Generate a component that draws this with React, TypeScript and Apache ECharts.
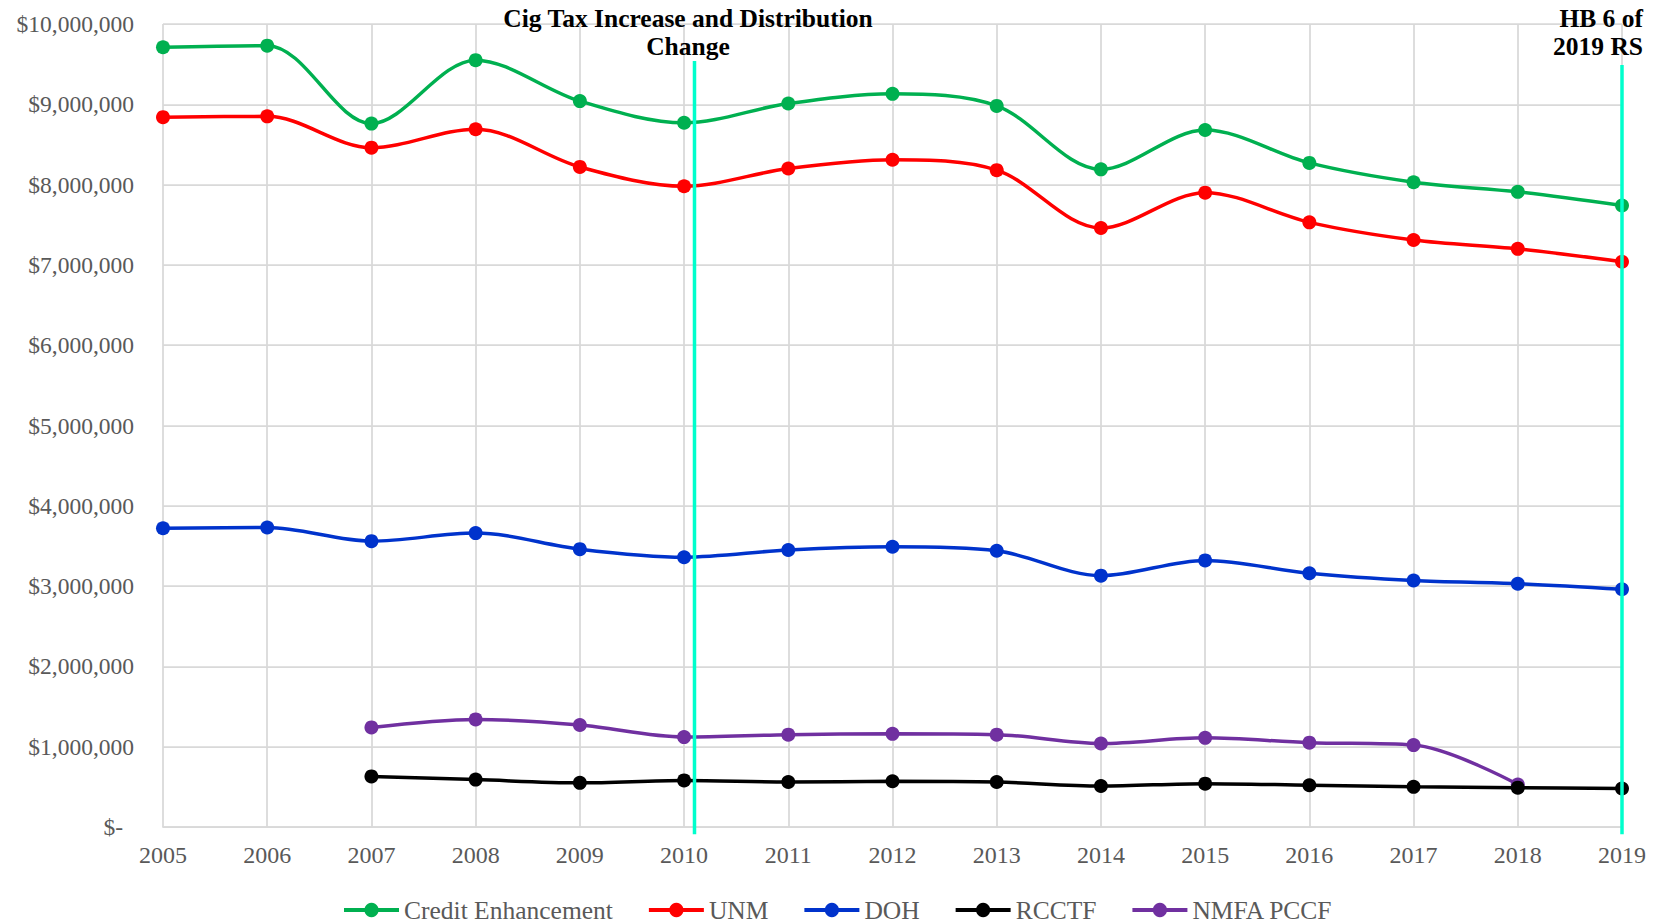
import React, { useEffect, useRef } from "react";
import * as echarts from "echarts";

const years = [2005, 2006, 2007, 2008, 2009, 2010, 2011, 2012, 2013, 2014, 2015, 2016, 2017, 2018, 2019];

const creditEnhancement = [9710000, 9730000, 8760000, 9550000, 9040000, 8770000, 9010000, 9130000, 8980000, 8190000, 8680000, 8270000, 8030000, 7910000, 7740000];
const unm = [8840000, 8850000, 8460000, 8690000, 8220000, 7980000, 8200000, 8310000, 8180000, 7460000, 7900000, 7530000, 7310000, 7200000, 7040000];
const doh = [3720000, 3730000, 3560000, 3660000, 3460000, 3360000, 3450000, 3490000, 3440000, 3130000, 3320000, 3160000, 3070000, 3030000, 2960000];
const rcctf = [null, null, 630000, 590000, 550000, 580000, 560000, 570000, 560000, 510000, 540000, 520000, 500000, 490000, 480000];
const nmfaPccf = [null, null, 1240000, 1340000, 1270000, 1120000, 1150000, 1160000, 1150000, 1040000, 1110000, 1050000, 1020000, 530000, null];

const seriesNames = ["Credit Enhancement", "UNM", "DOH", "RCCTF", "NMFA PCCF"];
const seriesColors = ["#00B050", "#FF0000", "#0033CC", "#000000", "#7030A0"];
const seriesValues = [creditEnhancement, unm, doh, rcctf, nmfaPccf];

const yTicks = { min: 0, max: 10000000, interval: 1000000 };

const annotationLines = [
  { x: 2010.1, top: 9540000, bottom: -90000 },
  { x: 2019, top: 9490000, bottom: -90000 },
];

const annotationTexts = [
  { text: "Cig Tax Increase and Distribution\nChange", x: 688, align: "center" },
  { text: "HB 6 of\n2019 RS", x: 1643, align: "right" },
];

const FONT = '"Liberation Serif", "Times New Roman", serif';

export default function App() {
  const ref = useRef<HTMLDivElement>(null);

  useEffect(() => {
    if (!ref.current) return;
    const chart = echarts.init(ref.current, undefined, { renderer: "svg" });

    const series: any[] = seriesNames.map((name, i) => {
      const data = years
        .map((y, j) => [y, seriesValues[i][j]])
        .filter((d) => d[1] !== null && d[1] !== undefined);
      return {
        name,
        type: "line",
        data,
        smooth: 0.33,
        symbol: "circle",
        symbolSize: 14,
        showSymbol: true,
        lineStyle: { color: seriesColors[i], width: 3.5 },
        itemStyle: { color: seriesColors[i] },
        emphasis: { disabled: true },
        z: 10 - i,
      };
    });

    chart.setOption({
      animation: false,
      backgroundColor: "#ffffff",
      grid: { left: 163, right: 41, top: 24, bottom: 97, containLabel: false },
      xAxis: {
        type: "value",
        min: 2005,
        max: 2019,
        interval: 1,
        axisLine: { show: true, lineStyle: { color: "#D9D9D9", width: 1.75 } },
        axisTick: { show: false },
        splitLine: { show: true, lineStyle: { color: "#D9D9D9", width: 1.75 } },
        axisLabel: {
          margin: 16,
          color: "#595959",
          fontFamily: FONT,
          fontSize: 24,
          formatter: (v: number) => String(v),
        },
      },
      yAxis: {
        type: "value",
        min: yTicks.min,
        max: yTicks.max,
        interval: yTicks.interval,
        axisLine: { show: false },
        axisTick: { show: false },
        splitLine: { show: true, lineStyle: { color: "#D9D9D9", width: 1.75 } },
        axisLabel: {
          margin: 29,
          color: "#595959",
          fontFamily: FONT,
          fontSize: 23.5,
          formatter: (v: number) =>
            v === 0 ? "{z|$-}" : "$" + v.toLocaleString("en-US"),
          rich: {
            z: {
              padding: [0, 11, 0, 0],
              color: "#595959",
              fontFamily: FONT,
              fontSize: 23.5,
            },
          },
        },
      },
      legend: {
        data: seriesNames,
        left: 337,
        top: 892,
        itemWidth: 55,
        itemHeight: 18,
        itemGap: 34,
        lineStyle: { width: 4 },
        textStyle: { color: "#595959", fontFamily: FONT, fontSize: 25.5 },
      },
      series,
    });

    const graphics: any[] = annotationTexts.map((t, i) => ({
      type: "text",
      id: "annText" + i,
      x: t.x,
      y: 4,
      silent: true,
      z: 100,
      style: {
        text: t.text,
        font: 'bold 25.5px "Liberation Serif", serif',
        fill: "#000000",
        textAlign: t.align,
        textVerticalAlign: "top",
        lineHeight: 28,
      },
    }));

    annotationLines.forEach((a, i) => {
      const p1 = chart.convertToPixel({ gridIndex: 0 }, [a.x, a.top]) as number[];
      const p2 = chart.convertToPixel({ gridIndex: 0 }, [a.x, a.bottom]) as number[];
      graphics.push({
        type: "line",
        id: "annLine" + i,
        silent: true,
        z: 100,
        shape: { x1: p1[0], y1: p1[1], x2: p2[0], y2: p2[1] },
        style: { stroke: "#00FFCC", lineWidth: 3.5 },
      });
    });

    chart.setOption({ graphic: graphics });

    return () => {
      chart.dispose();
    };
  }, []);

  return (
    <div
      ref={ref}
      style={{ position: "fixed", left: 0, top: 0, width: 1663, height: 924, background: "#fff" }}
    />
  );
}
